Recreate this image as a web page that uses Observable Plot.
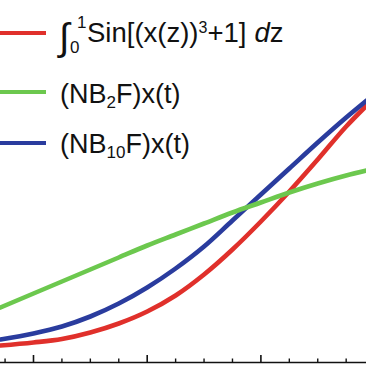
<!DOCTYPE html>
<html><head><meta charset="utf-8">
<script src="https://cdn.jsdelivr.net/npm/d3@7"></script>
<script src="https://cdn.jsdelivr.net/npm/@observablehq/plot@0.6"></script>
<style>body{margin:0;background:#fff}#chart{width:366px;height:366px}</style>
</head><body><div id="chart"></div>
<script>
// x positions (major tick spacing = 1 unit)
const xs = [-0.29, 0, 0.25, 0.5, 0.75, 1, 1.25, 1.5, 1.75, 2, 2.25, 2.5, 2.75, 2.93];
const redIntegral = [0.17, 0.20, 0.235, 0.30, 0.39, 0.51, 0.67, 0.88, 1.13, 1.41, 1.71, 2.03, 2.36, 2.57];
const greenNB2F  = [0.55, 0.69, 0.81, 0.93, 1.05, 1.17, 1.28, 1.39, 1.50, 1.60, 1.70, 1.79, 1.87, 1.92];
const blueNB10F  = [0.23, 0.29, 0.36, 0.46, 0.59, 0.75, 0.94, 1.16, 1.42, 1.68, 1.94, 2.20, 2.45, 2.62];
const seriesKeys = ["integral", "NB2F", "NB10F"];
const seriesColors = ["#e0302b", "#6cc84e", "#2a3c9e"];
const majorTicks = [0, 1, 2];
const minorTicks = [-0.25, 0.25, 0.5, 0.75, 1.25, 1.5, 1.75, 2.25, 2.5, 2.75];

const rows = [];
[[redIntegral, "integral"], [blueNB10F, "NB10F"], [greenNB2F, "NB2F"]].forEach(([arr, key]) => {
  arr.forEach((y, j) => rows.push({x: xs[j], y, s: key}));
});

const plot = Plot.plot({
  width: 366, height: 366,
  marginTop: 0, marginRight: 0, marginLeft: 0, marginBottom: 4,
  x: {domain: [-0.2902, 2.9288], axis: null},
  y: {domain: [0, 3.62], axis: null},
  color: {domain: seriesKeys, range: seriesColors},
  marks: [
    Plot.line(rows, {x: "x", y: "y", z: "s", stroke: "s", strokeWidth: 4.6, curve: "monotone-x", clip: true}),
    Plot.frame({anchor: "bottom", stroke: "#111", strokeWidth: 1.6}),
    Plot.tickX(majorTicks, {x: d => d, insetTop: 355, stroke: "#111", strokeWidth: 1.6}),
    Plot.tickX(minorTicks, {x: d => d, insetTop: 358.5, stroke: "#111", strokeWidth: 1.4})
  ]
});
document.getElementById("chart").appendChild(plot);

// legend
const svg = d3.select(plot);
const lg = svg.append("g")
  .attr("font-family", "'Liberation Sans', Arial, sans-serif")
  .attr("text-anchor", "start")
  .attr("fill", "#111");
const swatchY = [33, 92, 143];
seriesKeys.forEach((k, i) => {
  lg.append("line").attr("x1", 0).attr("x2", 46).attr("y1", swatchY[i]).attr("y2", swatchY[i])
    .attr("stroke", seriesColors[i]).attr("stroke-width", 4);
});
// label 1: integral
lg.append("text").attr("x", 59).attr("y", 50).attr("font-size", 38).text("\u222B");
lg.append("text").attr("x", 77).attr("y", 28).attr("font-size", 17).text("1");
lg.append("text").attr("x", 70).attr("y", 53).attr("font-size", 17).text("0");
const t1 = lg.append("text").attr("x", 87).attr("y", 42).attr("font-size", 27.5);
t1.append("tspan").text("Sin[(x(z))");
t1.append("tspan").attr("dy", -9).attr("font-size", 16).text("3");
t1.append("tspan").attr("dy", 9).text("+1]");
t1.append("tspan").attr("dx", 8).attr("font-style", "italic").text("d");
t1.append("tspan").text("z");
// label 2
const t2 = lg.append("text").attr("x", 60).attr("y", 103).attr("font-size", 27);
t2.append("tspan").text("(NB");
t2.append("tspan").attr("dy", 5).attr("font-size", 17).text("2");
t2.append("tspan").attr("dy", -5).text("F)x(t)");
// label 3
const t3 = lg.append("text").attr("x", 60).attr("y", 153).attr("font-size", 27);
t3.append("tspan").text("(NB");
t3.append("tspan").attr("dy", 5).attr("font-size", 17).text("10");
t3.append("tspan").attr("dy", -5).text("F)x(t)");
</script>
</body></html>
